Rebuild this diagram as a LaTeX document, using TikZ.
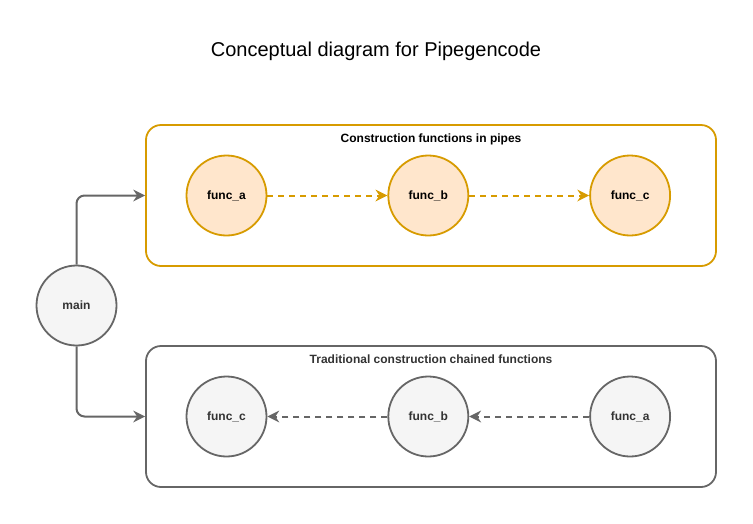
\documentclass[tikz,border=0pt]{standalone}
\usepackage{fontspec}
\setmainfont{Liberation Sans}
\usetikzlibrary{arrows.meta, positioning}

\definecolor{pipeline}{HTML}{D79B00}
\definecolor{pipefill}{HTML}{FFE6CC}
\definecolor{chainline}{HTML}{666666}
\definecolor{chainfill}{HTML}{F5F5F5}
\definecolor{chaintext}{HTML}{333333}

\begin{document}
\begin{tikzpicture}[
  x=1pt, y=-1pt,
  node distance=120pt,
  every node/.style={font=\fontsize{12}{14}\selectfont\bfseries},
  group/.style={rectangle, rounded corners=15pt, line width=1.8pt, minimum width=570pt, minimum height=141pt, inner sep=0pt},
  pipegroup/.style={group, draw=pipeline},
  chaingroup/.style={group, draw=chainline},
  func/.style={circle, line width=1.8pt, minimum size=80pt, inner sep=0pt},
  pipefunc/.style={func, draw=pipeline, fill=pipefill},
  chainfunc/.style={func, draw=chainline, fill=chainfill, text=chaintext},
  flow/.style={-{Stealth[length=12pt,width=12pt,inset=4pt,line width=0pt]}, line width=2pt, dash pattern=on 6pt off 5pt},
  link/.style={-{Stealth[length=12pt,width=12pt,inset=4pt,line width=0pt]}, line width=2pt, draw=chainline, rounded corners=8pt}
]
\useasboundingbox (0,0) rectangle (753,523);

\node[font=\fontsize{20}{24}\selectfont] (title) at (376,51) {Conceptual diagram for Pipegencode};

% pipes
\node[pipegroup] (pipes) at (431,195.5) {};
\node[anchor=north] (pipeslabel) at (431,130) {Construction functions in pipes};
\node[pipefunc] (pa) at (226.5,195.5) {func\_a};
\node[pipefunc, right=of pa] (pb) {func\_b};
\node[pipefunc, right=of pb] (pc) {func\_c};

% chained
\node[chaingroup] (chain) at (431,416.5) {};
\node[anchor=north, text=chaintext] (chainlabel) at (431,351) {Traditional construction chained functions};
\node[chainfunc] (cc) at (226.5,416.5) {func\_c};
\node[chainfunc, right=of cc] (cb) {func\_b};
\node[chainfunc, right=of cb] (ca) {func\_a};

\node[chainfunc] (main) at (76.5,305.5) {main};

\draw[flow, draw=pipeline] (pa) -- (pb);
\draw[flow, draw=pipeline] (pb) -- (pc);
\draw[flow, draw=chainline] (cb) -- (cc);
\draw[flow, draw=chainline] (ca) -- (cb);

\draw[link] (main.north) |- (pipes.west);
\draw[link] (main.south) |- (chain.west);
\end{tikzpicture}
\end{document}
